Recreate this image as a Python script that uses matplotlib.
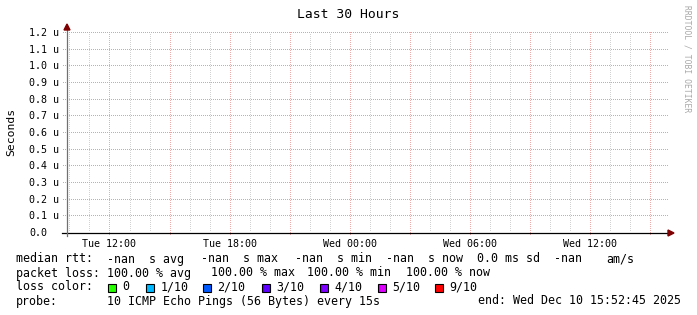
import datetime as dt
import numpy as np
import matplotlib
matplotlib.use("Agg")
import matplotlib.pyplot as plt
import matplotlib.dates as mdates

# ---------------- data ----------------
title = "Last 30 Hours"
y_label = "Seconds"
t_end = dt.datetime(2025, 12, 10, 15, 52, 45)
hours_span = 30
y_ticks = [0.0, 0.1, 0.2, 0.3, 0.4, 0.5, 0.6, 0.7, 0.8, 0.9, 1.0, 1.1, 1.2]
y_tick_labels = ["0.0", "0.1 u", "0.2 u", "0.3 u", "0.4 u", "0.5 u", "0.6 u",
                 "0.7 u", "0.8 u", "0.9 u", "1.0 u", "1.1 u", "1.2 u"]
median_rtt = []          # no data received (all NaN)
row1_head = "median rtt:"
row1_items = ["-nan  s avg", "-nan  s max", "-nan  s min", "-nan  s now", "0.0 ms sd", "-nan", "am/s"]
row2_head = "packet loss:"
row2_items = ["100.00 % avg", "100.00 % max", "100.00 % min", "100.00 % now"]
row3_head = "loss color:"
loss_labels = ["0", "1/10", "2/10", "3/10", "4/10", "5/10", "9/10"]
loss_colors = ["#26ff00", "#00b8ff", "#0059ff", "#5e00ff", "#7e00ff", "#dd00ff", "#ff0000"]
row4_head = "probe:"
probe_text = "10 ICMP Echo Pings (56 Bytes) every 15s"
end_text = "end: Wed Dec 10 15:52:45 2025"
watermark = "RRDTOOL / TOBI OETIKER"

# ---------------- layout ----------------
W, H = 697, 315
DPI = 100
mono = "DejaVu Sans Mono"
fig = plt.figure(figsize=(W / DPI, H / DPI), dpi=DPI)
fig.patch.set_facecolor("white")

def fx(px):
    return px / W

def fy(py):
    return 1 - py / H

x0, x1, ytop, ybot = 67, 668, 33, 233
ax = fig.add_axes([fx(x0), fy(ybot), fx(x1) - fx(x0), (ybot - ytop) / H])
ax.set_facecolor("white")
for s in ax.spines.values():
    s.set_visible(False)

t_start = t_end - dt.timedelta(hours=hours_span)
xs, xe = mdates.date2num(t_start), mdates.date2num(t_end)
ymax = max(y_ticks)
ax.set_xlim(xs, xe)
ax.set_ylim(0, ymax)

# data (empty)
ax.plot([xs, xe], [np.nan, np.nan], color="#00aa00")

# dotted grid drawn as single pixels
dx_px = (xe - xs) / (x1 - x0)
dy_px = ymax / (ybot - ytop)
first_hour = t_start.replace(minute=0, second=0) + dt.timedelta(hours=1)
hours = []
h = first_hour
while h <= t_end:
    hours.append(h)
    h += dt.timedelta(hours=1)
MAJ_V = "#f0aaaa"
MAJ_H = "#f09a9a"
MIN = "#d2d2d2"
for h in hours:
    xv = mdates.date2num(h)
    if h.hour % 3 == 0:
        yy = np.arange(ymax, -3.5 * dy_px, -2 * dy_px)
        ax.plot(np.full_like(yy, xv), yy, ",", color=MAJ_V, clip_on=False, zorder=1, antialiased=False)
    else:
        yy = np.arange(ymax, 0, -2 * dy_px)
        ax.plot(np.full_like(yy, xv), yy, ",", color=MIN, zorder=1, antialiased=False)
for yv in y_ticks[1:]:
    xx = np.arange(xs - 4 * dx_px, xe, 2 * dx_px)
    ax.plot(xx, np.full_like(xx, yv), ",", color=MAJ_H, clip_on=False, zorder=1, antialiased=False)

# axes lines
pfx = 1.0 / (x1 - x0)
pfy = 1.0 / (ybot - ytop)
ax.plot([-5 * pfx, 1], [0, 0], transform=ax.transAxes, color="black",
        lw=0.9, clip_on=False, zorder=3)
ax.plot([0, 0], [-3 * pfy, 1 + 4 * pfy], transform=ax.transAxes,
        color="#707070", lw=0.9, clip_on=False, zorder=3)
# arrows
ax.fill([-3 * pfx, 3 * pfx, 0], [1 + 3 * pfy, 1 + 3 * pfy, 1 + 9 * pfy],
        transform=ax.transAxes, color="#7f0000", clip_on=False, zorder=4)
ax.fill([1, 1, 1 + 6 * pfx], [-3 * pfy, 3 * pfy, 0],
        transform=ax.transAxes, color="#7f0000", clip_on=False, zorder=4)

# ticks & labels
ax.set_yticks([])
major = [h for h in hours if h.hour % 6 == 0]
ax.set_xticks([mdates.date2num(h) for h in major])
ax.set_xticklabels([h.strftime("%a %H:%M") for h in major], fontfamily=mono, fontsize=7.2)
ax.tick_params(axis="x", length=0, pad=4)
ytr = ax.get_yaxis_transform()
for yv, lab in zip(y_ticks, y_tick_labels):
    ax.text((29 - x0) * pfx, yv, lab, transform=ytr, ha="left", va="center",
            fontfamily=mono, fontsize=7.2, color="black")

# texts
fig.text(fx(348), fy(14), title, ha="center", va="center", fontfamily=mono, fontsize=9.4)
fig.text(fx(11), fy(132), y_label, ha="center", va="center", rotation=90,
         fontfamily=mono, fontsize=8.2)
fig.text(fx(687), fy(59), watermark, ha="center", va="center", rotation=270,
         fontfamily=mono, fontsize=5.8, color="#a8a8a8")

LX = 16
leg_fs = 8.4

def t(xp, yb, s, ha="left"):
    fig.text(fx(xp), fy(yb), s, ha=ha, va="baseline", fontfamily=mono, fontsize=leg_fs)

B1, B2, B3, B4 = 262.5, 276.5, 290.5, 304.5
t(LX, B1, row1_head)
for xp, s in zip([107, 201, 295, 386, 477, 554, 606], row1_items):
    t(xp, B1, s)
t(LX, B2, row2_head)
for xp, s in zip([107, 211, 307, 406], row2_items):
    t(xp, B2, s)
t(LX, B3, row3_head)
box_x = [108, 146, 203, 262, 320, 378, 435]
for bx, lab, col in zip(box_x, loss_labels, loss_colors):
    fig.patches.append(plt.Rectangle((fx(bx), fy(291.5)), 8 / W, 8 / H, transform=fig.transFigure,
                                     facecolor=col, edgecolor="black", lw=0.8))
    t(bx + 14.5, B3, lab)
t(LX, B4, row4_head)
t(107, B4, probe_text)
t(681, B4, end_text, ha="right")

fig.savefig("out.png", dpi=DPI, facecolor="white")
